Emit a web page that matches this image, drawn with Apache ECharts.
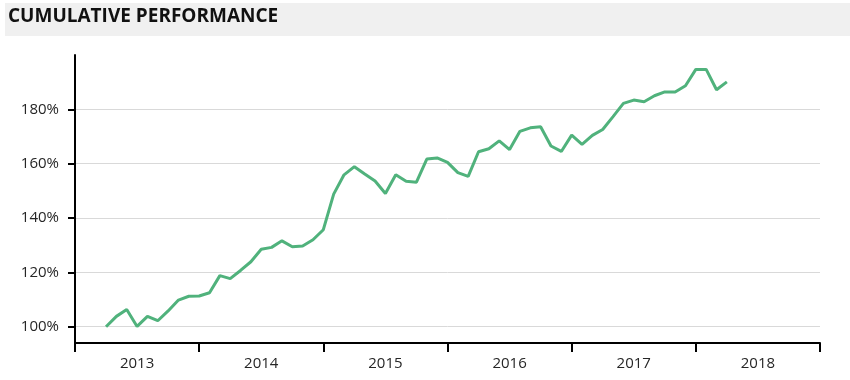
<!DOCTYPE html>
<html>
<head>
<meta charset="utf-8">
<script src="https://cdn.jsdelivr.net/npm/echarts@6/dist/echarts.min.js"></script>
<style>html,body{margin:0;padding:0;background:#fff}#c{width:850px;height:380px}</style>
</head>
<body>
<div id="c"></div>
<script>
const titleText = 'CUMULATIVE PERFORMANCE';
const years = ['2013', '2014', '2015', '2016', '2017', '2018'];
const yTicks = [100, 120, 140, 160, 180];
const months = [];
(function () {
  for (let y = 2013; y <= 2018; y++) {
    for (let m = 1; m <= 12; m++) {
      if ((y === 2013 && m < 3) || (y === 2018 && m > 3)) continue;
      months.push(y + '-' + String(m).padStart(2, '0'));
    }
  }
})();
const values = [
  100.0, 103.8, 106.3, 100.1, 103.8, 102.2, 105.8, 109.8, 111.2, 111.3,
  112.5, 118.8, 117.7, 120.7, 123.9, 128.5, 129.2, 131.6, 129.4, 129.7,
  132.0, 135.7, 148.8, 155.9, 158.9, 156.2, 153.6, 149.0, 155.9, 153.5,
  153.2, 161.7, 162.1, 160.5, 156.7, 155.3, 164.4, 165.5, 168.4, 165.2,
  171.9, 173.2, 173.6, 166.5, 164.5, 170.5, 167.1, 170.4, 172.6, 177.3,
  182.2, 183.4, 182.8, 185.0, 186.4, 186.4, 188.7, 194.7, 194.7, 187.2,
  190.1
];

const seriesData = months.map((s, i) => {
  const p = s.split('-');
  return [Number(p[0]) + Number(p[1]) / 12, values[i]];
});

const chart = echarts.init(document.getElementById('c'), null, { renderer: 'canvas' });
chart.setOption({
  animation: false,
  backgroundColor: '#ffffff',
  graphic: [
    { type: 'rect', left: 5, top: 3, shape: { width: 845, height: 33 }, style: { fill: '#f0f0f0' }, z: 0 },
    { type: 'text', left: 8, top: 7, style: { text: titleText, fill: '#111', font: 'bold 19px "Open Sans"' }, z: 1 }
  ],
  grid: { left: 75, right: 30, top: 55, bottom: 37 },
  xAxis: [
    {
      type: 'category',
      data: years,
      boundaryGap: true,
      axisLine: { lineStyle: { color: '#000', width: 2 } },
      axisTick: { show: true, interval: 0, alignWithLabel: false, length: 9, lineStyle: { color: '#000', width: 2 } },
      axisLabel: { color: '#262626', fontSize: 15, fontFamily: 'Open Sans', margin: 13 },
      splitLine: { show: false }
    },
    {
      type: 'value',
      min: 2013, max: 2019,
      show: false,
      splitLine: { show: false }
    }
  ],
  yAxis: {
    type: 'value',
    min: 94, max: 200,
    axisLine: { show: true, lineStyle: { color: '#000', width: 2 } },
    axisTick: { show: true, customValues: yTicks, length: 7, lineStyle: { color: '#000', width: 2 } },
    axisLabel: { customValues: yTicks, formatter: v => v + '%', color: '#262626', fontSize: 15, fontFamily: 'Open Sans', margin: 16 },
    splitLine: { show: true, lineStyle: { color: '#d9d9d9', width: 1 } }
  },
  series: [{
    type: 'line',
    xAxisIndex: 1,
    data: seriesData,
    showSymbol: false,
    lineStyle: { color: '#50b27c', width: 3 },
    itemStyle: { color: '#50b27c' }
  }]
});
</script>
</body>
</html>
